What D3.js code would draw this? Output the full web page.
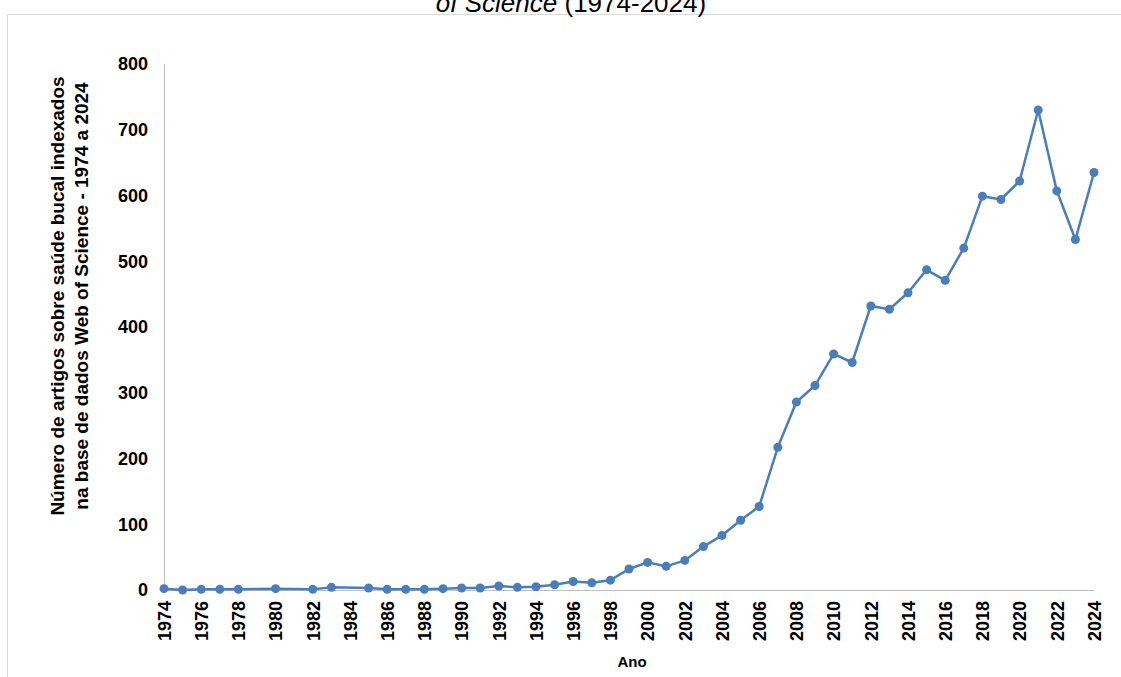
<!DOCTYPE html>
<html>
<head>
<meta charset="utf-8">
<script src="https://cdn.jsdelivr.net/npm/d3@7"></script>
<style>
  html, body { margin: 0; padding: 0; background: #ffffff; }
  svg { display: block; font-family: "Liberation Sans", Arial, sans-serif; }
</style>
</head>
<body>
<svg id="chart" width="1121" height="677"></svg>
<script>
const years = [1974,1975,1976,1977,1978,1980,1982,1983,1985,1986,1987,1988,1989,1990,1991,1992,1993,1994,1995,1996,1997,1998,1999,2000,2001,2002,2003,2004,2005,2006,2007,2008,2009,2010,2011,2012,2013,2014,2015,2016,2017,2018,2019,2020,2021,2022,2023,2024];
const articles = [2,0,1,1,1,2,1,4,3,1,1,1,2,3,3,6,4,5,8,13,11,15,32,42,36,45,66,83,106,127,217,286,311,359,346,432,427,452,487,471,520,599,594,622,730,607,533,635];
const yTicks = [0,100,200,300,400,500,600,700,800];
const xTicks = [1974,1976,1978,1980,1982,1984,1986,1988,1990,1992,1994,1996,1998,2000,2002,2004,2006,2008,2010,2012,2014,2016,2018,2020,2022,2024];
const titleItalic = "of Science";
const titleRest = " (1974-2024)";
const yTitle1 = "Número de artigos sobre saúde bucal indexados";
const yTitle2 = "na base de dados Web of Science - 1974 a 2024";
const xTitle = "Ano";

const svg = d3.select("#chart");
const color = "#4a7ebb";

// frame
svg.append("rect").attr("x", 7.5).attr("y", 14.5).attr("width", 1200).attr("height", 800)
  .attr("fill", "none").attr("stroke", "#d9d9d9").attr("stroke-width", 1);

// title (partially visible, as in the reference)
const t = svg.append("text").attr("x", 571).attr("y", 12).attr("text-anchor", "middle")
  .attr("font-size", 26).attr("fill", "#000");
t.append("tspan").attr("font-style", "italic").text(titleItalic);
t.append("tspan").text(titleRest);

const x = d3.scaleLinear().domain([1974, 2024]).range([164, 1094]);
const y = d3.scaleLinear().domain([0, 800]).range([590, 64]);

// y axis
const yAxis = svg.append("g").attr("transform", "translate(164,0)")
  .call(d3.axisLeft(y).tickValues(yTicks).tickSize(0).tickPadding(16));
yAxis.select(".domain").attr("stroke", "#bfbfbf").attr("stroke-width", 1);
yAxis.selectAll("text").attr("font-size", 18).attr("font-weight", "bold")
  .attr("font-family", "Liberation Sans, Arial, sans-serif").attr("fill", "#000");

// x axis
const xAxis = svg.append("g").attr("transform", "translate(0,590)")
  .call(d3.axisBottom(x).tickValues(xTicks).tickFormat(d3.format("d")).tickSize(0));
xAxis.select(".domain").attr("stroke", "#bfbfbf").attr("stroke-width", 1);
xAxis.selectAll("text")
  .attr("font-size", 18).attr("font-weight", "bold")
  .attr("font-family", "Liberation Sans, Arial, sans-serif").attr("fill", "#000")
  .attr("text-anchor", "end")
  .attr("transform", "rotate(-90)")
  .attr("x", -11).attr("y", 0).attr("dy", "0.35em");

// axis titles
svg.append("text").attr("transform", "translate(64,296) rotate(-90)")
  .attr("text-anchor", "middle").attr("font-size", 19).attr("font-weight", "bold").text(yTitle1);
svg.append("text").attr("transform", "translate(88,296) rotate(-90)")
  .attr("text-anchor", "middle").attr("font-size", 19).attr("font-weight", "bold").text(yTitle2);
svg.append("text").attr("x", 632).attr("y", 667).attr("text-anchor", "middle")
  .attr("font-size", 15).attr("font-weight", "bold").text(xTitle);

// line
const data = years.map((yr, i) => ({ yr, v: articles[i] }));
svg.append("path").datum(data)
  .attr("fill", "none").attr("stroke", color).attr("stroke-width", 2.5)
  .attr("stroke-linejoin", "round")
  .attr("d", d3.line().x(d => x(d.yr)).y(d => y(d.v)));
svg.append("g").selectAll("circle").data(data).join("circle")
  .attr("cx", d => x(d.yr)).attr("cy", d => y(d.v)).attr("r", 4.5).attr("fill", color);
</script>
</body>
</html>
